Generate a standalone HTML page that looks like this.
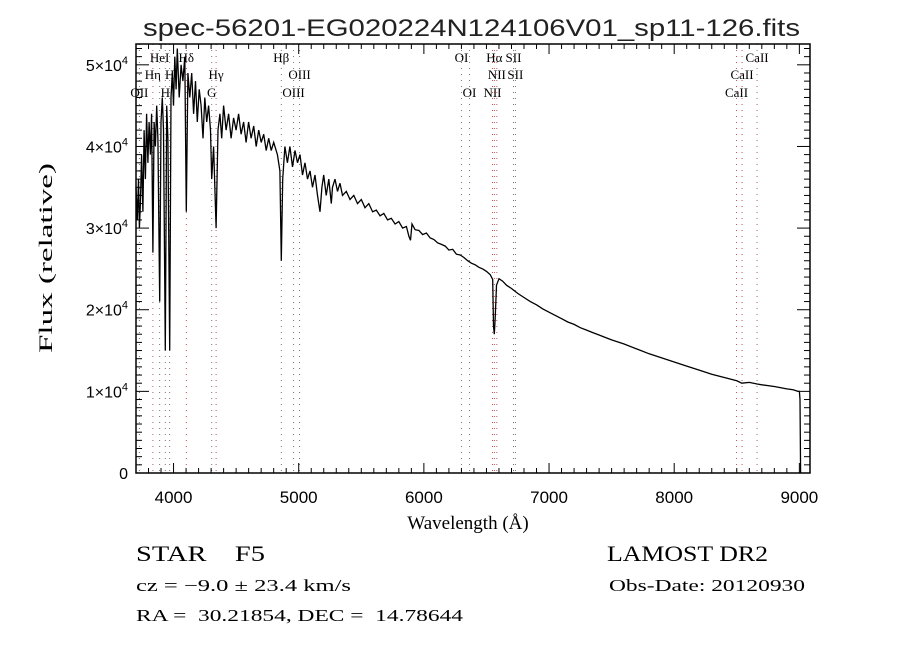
<!DOCTYPE html>
<html><head><meta charset="utf-8"><style>
html,body{margin:0;padding:0;background:#fff;width:900px;height:650px;overflow:hidden}
svg text{fill:#000;white-space:pre}
</style></head><body>
<svg id="chart" width="900" height="650" viewBox="0 0 900 650" xmlns="http://www.w3.org/2000/svg" xml:space="preserve">
<rect x="0" y="0" width="900" height="650" fill="#fff"/>
<text x="143" y="36" font-family="Liberation Sans, sans-serif" font-size="24" textLength="657" lengthAdjust="spacingAndGlyphs" style="fill:#222">spec-56201-EG020224N124106V01_sp11-126.fits</text>
<g id="lines"></g>
<g id="spec"></g>
<g id="axes"></g>
<text x="468" y="529" text-anchor="middle" font-family="Liberation Serif, serif" font-size="19">Wavelength (Å)</text>
<text transform="translate(52,258) rotate(-90)" text-anchor="middle" font-family="Liberation Serif, serif" font-size="19" textLength="190" lengthAdjust="spacingAndGlyphs">Flux (relative)</text>
<text x="136" y="561" font-family="Liberation Serif, serif" font-size="22" textLength="129" lengthAdjust="spacingAndGlyphs">STAR    F5</text>
<text x="136" y="591" font-family="Liberation Serif, serif" font-size="17" textLength="215" lengthAdjust="spacingAndGlyphs">cz = −9.0 ± 23.4 km/s</text>
<text x="136" y="621" font-family="Liberation Serif, serif" font-size="17" textLength="327" lengthAdjust="spacingAndGlyphs">RA =  30.21854, DEC =  14.78644</text>
<text x="607" y="561" font-family="Liberation Serif, serif" font-size="22" textLength="161" lengthAdjust="spacingAndGlyphs">LAMOST DR2</text>
<text x="609" y="591" font-family="Liberation Serif, serif" font-size="17" textLength="196" lengthAdjust="spacingAndGlyphs">Obs-Date: 20120930</text>
</svg>
<script>
const wavelengths=[3700,3710,3720,3727,3735,3745,3755,3765,3775,3785,3795,3805,3815,3825,3835,3845,3855,3865,3875,3889,3900,3910,3920,3934,3945,3955,3969,3980,3990,4000,4010,4020,4030,4045,4060,4075,4090,4102,4115,4130,4145,4160,4175,4190,4205,4220,4235,4250,4265,4280,4295,4305,4320,4340,4355,4370,4385,4400,4420,4440,4460,4480,4500,4520,4540,4560,4580,4600,4620,4640,4660,4680,4700,4720,4740,4760,4780,4800,4830,4850,4861,4872,4890,4910,4930,4950,4970,4990,5010,5030,5050,5070,5090,5110,5130,5150,5170,5185,5200,5220,5240,5260,5270,5290,5310,5330,5350,5380,5410,5440,5470,5500,5530,5560,5590,5620,5650,5680,5710,5740,5770,5800,5830,5860,5880,5893,5905,5930,5960,5990,6020,6050,6080,6110,6140,6170,6200,6230,6260,6290,6320,6350,6380,6410,6440,6470,6500,6530,6550,6556,6563,6570,6580,6600,6630,6660,6700,6750,6800,6850,6900,6950,7000,7050,7100,7150,7200,7250,7300,7350,7400,7450,7500,7600,7700,7800,7900,8000,8100,8200,8300,8400,8500,8540,8600,8662,8700,8800,8900,8950,8990,9000,9005,9010];
const fluxes=[35000,31000,36000,30000,33000,39000,32000,42000,36000,44000,38000,43000,39000,44000,27000,43000,40000,45000,41000,21000,43000,46000,42000,15000,45000,41000,15000,46000,49000,45000,51000,47000,52000,46000,50000,48000,51000,32000,49000,46000,49000,44000,48000,43000,47000,45000,41000,46000,43000,45000,42000,36000,40000,30000,42000,44000,41000,45000,42000,44000,41000,43500,42000,44000,41500,43000,40500,43000,41000,42500,40000,42000,40500,41500,39500,41000,39500,40500,39000,37000,26000,36000,40000,38000,40000,37500,39500,38000,39000,36500,38000,36000,37000,35000,36500,34000,32000,35000,36500,34000,36000,33000,35000,36000,34500,35500,34000,34500,33500,34000,33000,33500,32500,33000,32000,32200,31500,31800,31000,31200,30500,30800,30000,30200,29000,28500,30500,29800,29700,29200,29400,28800,28600,28200,28000,27800,27300,27400,26800,26700,26400,26000,25700,25500,25200,25000,24700,24300,23700,18000,17000,19000,23000,23800,23500,23000,22600,22000,21500,21000,20600,20100,19700,19300,18900,18500,18200,17800,17500,17200,16900,16600,16300,15800,15200,14600,14100,13600,13100,12600,12100,11700,11300,11000,11100,10900,10800,10600,10300,10200,10000,10000,9000,0];
const xTicks=[4000,5000,6000,7000,8000,9000];
const yTickLabels=["0","1","2","3","4","5"];
const yTicks=[0,10000,20000,30000,40000,50000];
const lineWaves=[3727,3835,3889,3934,3969,4102,4305,4340,4861,4959,5007,6300,6364,6548,6563,6583,6716,6731,8498,8542,8662];
const lineLabels=["OII","Hη","HeI","H","H","Hδ","G","Hγ","Hβ","OIII","OIII","OI","OI","NII","Hα","NII","SII","SII","CaII","CaII","CaII"];
const lineRows=[2,1,0,2,1,0,2,1,0,2,1,0,2,2,0,1,0,1,2,1,0];

const L=136,R=810,T=44,B=473;
const XMIN=3700,XMAX=9085,YMIN=0,YMAX=52550;
const NS="http://www.w3.org/2000/svg";
function xs(w){return L+(w-XMIN)/(XMAX-XMIN)*(R-L);}
function ys(f){return B-(f-YMIN)/(YMAX-YMIN)*(B-T);}
function mk(tag,attrs,parent){const e=document.createElementNS(NS,tag);for(const k in attrs)e.setAttribute(k,attrs[k]);parent.appendChild(e);return e;}

const linesG=document.getElementById('lines');
const rowY=[62,79,97];
lineWaves.forEach((w,i)=>{
  const l=mk('line',{x1:xs(w),x2:xs(w),y1:T,y2:B,stroke:'#a05050','stroke-width':0.9,'stroke-dasharray':'1,5'},linesG);
  
  
  const t=mk('text',{x:xs(w),y:rowY[lineRows[i]],'text-anchor':'middle','font-family':'Liberation Serif, serif','font-size':13},linesG);
  t.textContent=lineLabels[i];
  
  
});

const specG=document.getElementById('spec');
const pts=wavelengths.map((w,i)=>xs(w).toFixed(1)+','+Math.max(T,ys(fluxes[i])).toFixed(1)).join(' ');
const pl=mk('polyline',{points:pts,fill:'none',stroke:'#000','stroke-width':1.3,'stroke-linejoin':'miter'},specG);



const ax=document.getElementById('axes');
const frame=mk('rect',{x:L,y:T,width:R-L,height:B-T,fill:'none',stroke:'#000','stroke-width':1.5},ax);


for(let w=3700;w<=XMAX;w+=100){
  const major=(w%1000===0);const len=major?10:5;const x=xs(w);
  mk('line',{x1:x,x2:x,y1:B,y2:B-len,stroke:'#000'},ax);
  mk('line',{x1:x,x2:x,y1:T,y2:T+len,stroke:'#000'},ax);
}
xTicks.forEach(w=>{
  const t=mk('text',{x:xs(w),y:503,'text-anchor':'middle','font-family':'Liberation Sans, sans-serif','font-size':17},ax);
  t.textContent=String(w);
  
  
});
for(let f=0;f<=YMAX;f+=1000){
  const major=(f%10000===0);const len=major?13:6;const y=ys(f);
  mk('line',{x1:L,x2:L+len,y1:y,y2:y,stroke:'#000'},ax);
  mk('line',{x1:R,x2:R-len,y1:y,y2:y,stroke:'#000'},ax);
}
yTicks.forEach((f,i)=>{
  const y=ys(f);
  const t=mk('text',{x:128,y:y+6,'text-anchor':'end','font-family':'Liberation Sans, sans-serif','font-size':16},ax);
  if(f===0){t.textContent='0';}
  else{
    t.textContent=yTickLabels[i]+'×10';
    const s=mk('tspan',{dy:-7,'font-size':11},t);s.textContent='4';
  }
  
  
});
</script>
</body></html>
